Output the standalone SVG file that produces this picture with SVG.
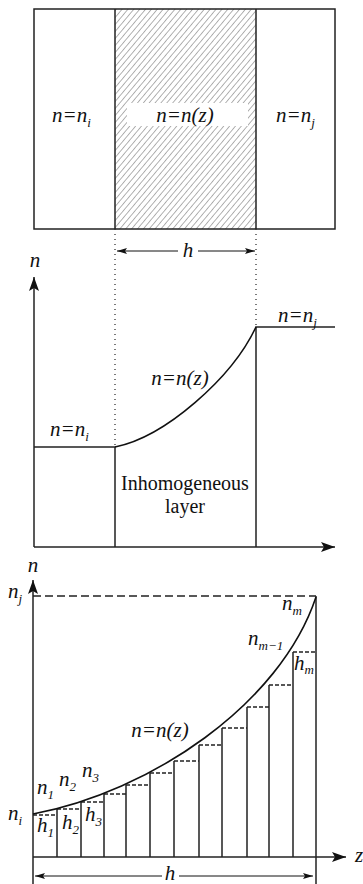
<svg xmlns="http://www.w3.org/2000/svg" width="363" height="884" viewBox="0 0 363 884">
<style>
.ln{stroke:#222;stroke-width:1.5;fill:none}
.dot{stroke:#333;stroke-width:1.3;fill:none;stroke-dasharray:1 4}
.dsh{stroke:#222;stroke-width:1.3;fill:none;stroke-dasharray:8 4}
.sdsh{stroke:#222;stroke-width:1.3;fill:none;stroke-dasharray:4 2}
.cv{stroke:#111;stroke-width:1.6;fill:none}
.thin{stroke:#111;stroke-width:1;fill:none}
.lbl{font-family:"Liberation Serif","Times New Roman",serif;fill:#111}
.m{font-size:21px;font-style:italic}
.r{font-size:20px}
.sub{font-size:13px}
</style>
<defs>
<pattern id="hatch" width="4.5" height="4.5" patternUnits="userSpaceOnUse" patternTransform="rotate(40)">
<line x1="0" y1="0" x2="0" y2="4.5" stroke="#555" stroke-width="0.9"/>
</pattern>
<marker id="ah" viewBox="0 0 10 6" refX="10" refY="3" markerWidth="10" markerHeight="6" markerUnits="userSpaceOnUse" orient="auto-start-reverse">
<path d="M0,0 L10,3 L0,6 L2,3 z" fill="#111"/>
</marker>
<marker id="big" viewBox="0 0 14 10" refX="14" refY="5" markerWidth="14" markerHeight="10" markerUnits="userSpaceOnUse" orient="auto">
<path d="M0,0 L14,5 L0,10 L3,5 z" fill="#111"/>
</marker>
</defs>

<!-- Top slab diagram -->
<g id="slab">
<rect x="115" y="9" width="141" height="220" fill="url(#hatch)"/>
<rect x="34" y="9" width="301" height="220" class="ln"/>
<line x1="115" y1="9" x2="115" y2="229" class="ln"/>
<line x1="256" y1="9" x2="256" y2="229" class="ln"/>
<rect x="127" y="103" width="121" height="23" fill="#fff"/>
</g>
<g id="slab-labels" class="lbl">
<text x="52" y="122" class="m">n=n<tspan class="sub" dy="5">i</tspan></text>
<text x="185" y="122" class="m" text-anchor="middle">n=n(z)</text>
<text x="276" y="122" class="m">n=n<tspan class="sub" dy="5">j</tspan></text>
</g>

<!-- Connectors / axes -->
<g id="connectors">
<line x1="115" y1="229" x2="115" y2="447" class="dot"/>
<line x1="256" y1="229" x2="256" y2="327" class="dot"/>
<line x1="178" y1="251" x2="117" y2="251" class="thin" marker-end="url(#ah)"/>
<line x1="198" y1="251" x2="255" y2="251" class="thin" marker-end="url(#ah)"/>
<line x1="34" y1="547" x2="34" y2="277" class="ln" marker-end="url(#big)"/>
<line x1="34" y1="547" x2="335" y2="547" class="ln" marker-end="url(#big)"/>
<line x1="33" y1="884" x2="33" y2="580" class="ln" marker-end="url(#big)"/>
<line x1="33" y1="857" x2="346" y2="857" class="ln" marker-end="url(#big)"/>
<line x1="162" y1="876" x2="35" y2="876" class="thin" marker-end="url(#ah)"/>
<line x1="179" y1="876" x2="313" y2="876" class="thin" marker-end="url(#ah)"/>
</g>

<!-- Middle profile -->
<g id="profile">
<polyline points="34,447 115,447 115,547" class="ln"/>
<polyline points="256,547 256,327 335,327" class="ln"/>
<path d="M115,447 C165,437 232,378 256,327" class="cv"/>
</g>
<g id="profile-labels" class="lbl">
<text x="188" y="257" class="m" text-anchor="middle">h</text>
<text x="35" y="267" class="m" text-anchor="middle">n</text>
<text x="278" y="322" class="m">n=n<tspan class="sub" dy="5">j</tspan></text>
<text x="180" y="385" class="m" text-anchor="middle">n=n(z)</text>
<text x="50" y="436" class="m">n=n<tspan class="sub" dy="5">i</tspan></text>
<text x="185" y="490" class="r" text-anchor="middle">Inhomogeneous</text>
<text x="185" y="513" class="r" text-anchor="middle">layer</text>
</g>

<!-- Bottom staircase -->
<g id="staircase">
<line x1="33" y1="596" x2="316" y2="596" class="dsh"/>
<line x1="316" y1="596" x2="316" y2="884" class="ln"/>
<path d="M33,815 H57 M57,809 H81 M81,802 H104 M104,794 H126 M126,785 H150 M150,773 H174 M174,761 H199 M199,745 H222 M222,728 H247 M247,707 H269 M269,685 H293 M293,652 H316" class="sdsh"/>
<path d="M57,809 V857 M81,802 V857 M104,794 V857 M126,785 V857 M150,773 V857 M174,761 V857 M199,745 V857 M222,728 V857 M247,707 V857 M269,685 V857 M293,652 V857" class="ln"/>
<path d="M33,814 C150,792 280,705 316,597" class="cv"/>
</g>
<g id="staircase-labels" class="lbl">
<text x="33" y="572" class="m" text-anchor="middle">n</text>
<text x="8" y="598" class="m">n<tspan class="sub" dy="5">j</tspan></text>
<text x="282" y="610" class="m">n<tspan class="sub" dy="5">m</tspan></text>
<text x="248" y="645" class="m">n<tspan class="sub" dy="5">m−1</tspan></text>
<text x="294" y="670" class="m">h<tspan class="sub" dy="4">m</tspan></text>
<text x="160" y="737" class="m" text-anchor="middle">n=n(z)</text>
<text x="37" y="794" class="m">n<tspan class="sub" dy="5">1</tspan></text>
<text x="59" y="786" class="m">n<tspan class="sub" dy="5">2</tspan></text>
<text x="82" y="777" class="m">n<tspan class="sub" dy="5">3</tspan></text>
<text x="8" y="820" class="m">n<tspan class="sub" dy="5">i</tspan></text>
<text x="37" y="832" class="m">h<tspan class="sub" dy="5">1</tspan></text>
<text x="62" y="829" class="m">h<tspan class="sub" dy="5">2</tspan></text>
<text x="85" y="821" class="m">h<tspan class="sub" dy="5">3</tspan></text>
<text x="170" y="880" class="m" text-anchor="middle">h</text>
<text x="355" y="862" class="m">z</text>
</g>
</svg>
